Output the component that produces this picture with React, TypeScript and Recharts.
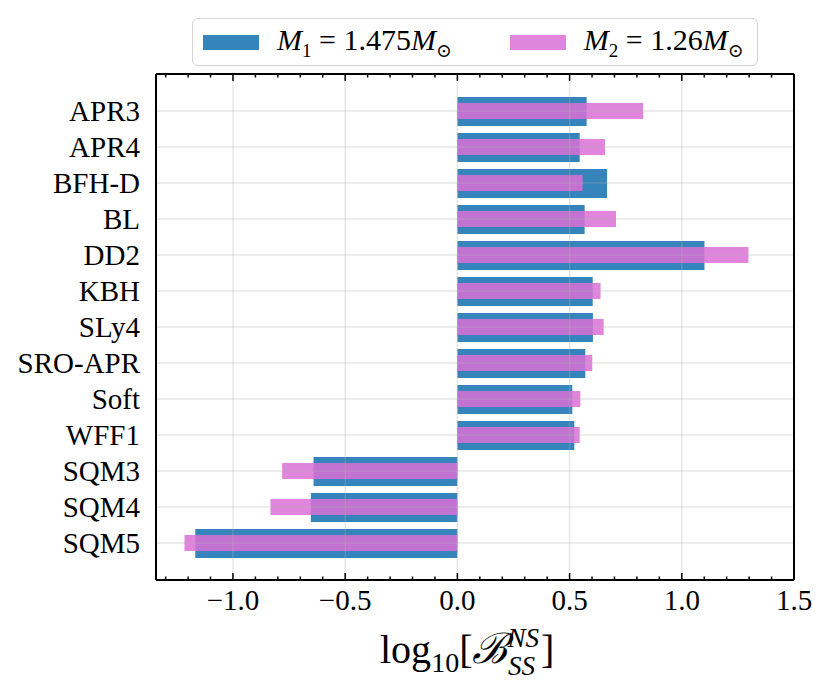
import React from "react";
import { ComposedChart, Bar, XAxis, YAxis, ReferenceLine } from "recharts";

// EOS models, top to bottom
const MODELS = ["APR3", "APR4", "BFH-D", "BL", "DD2", "KBH", "SLy4", "SRO-APR", "Soft", "WFF1", "SQM3", "SQM4", "SQM5"];
// log10 Bayes factor NS vs SS
const M1_VALUES = [0.576, 0.545, 0.667, 0.567, 1.101, 0.603, 0.604, 0.570, 0.512, 0.521, -0.641, -0.653, -1.168];
const M2_VALUES = [0.828, 0.658, 0.558, 0.707, 1.297, 0.638, 0.652, 0.601, 0.548, 0.545, -0.781, -0.833, -1.216];

const X_MAJOR_TICKS = [-1.0, -0.5, 0.0, 0.5, 1.0, 1.5];
const X_MINOR_TICKS = [-1.3, -1.2, -1.1, -0.9, -0.8, -0.7, -0.6, -0.4, -0.3, -0.2, -0.1,
  0.1, 0.2, 0.3, 0.4, 0.6, 0.7, 0.8, 0.9, 1.1, 1.2, 1.3, 1.4];
const X_DOMAIN: [number, number] = [-1.343, 1.5];

const FONT = "Liberation Serif, DejaVu Serif, serif";
const BLUE = "#1f77b4";
const PINK = "#da70d6";
const GRID = "#b0b0b0";
const PLOT_TOP = 74;

const data = MODELS.map((name, i) => ({ name, m1: M1_VALUES[i], m2: M2_VALUES[i] }));
const allTicks = [...X_MAJOR_TICKS, ...X_MINOR_TICKS].sort((a, b) => a - b);

const isMajor = (v: number) => X_MAJOR_TICKS.some((m) => Math.abs(m - v) < 1e-6);
const fmt = (v: number) => (v < 0 ? "\u2212" : "") + Math.abs(v).toFixed(1);

// inward ticks on bottom and mirrored on top spine
function BottomTick(props: any) {
  const { x, y, payload } = props;
  const len = isMajor(payload.value) ? 7 : 3.5;
  return (
    <g>
      <line x1={x} x2={x} y1={y} y2={y - len} stroke="#000" strokeWidth={1.5} />
      <line x1={x} x2={x} y1={PLOT_TOP} y2={PLOT_TOP + len} stroke="#000" strokeWidth={1.5} />
      {isMajor(payload.value) && (
        <text x={x} y={y + 30} textAnchor="middle" fontFamily={FONT} fontSize={29} fill="#000">
          {fmt(payload.value)}
        </text>
      )}
    </g>
  );
}

function YTick(props: any) {
  const { x, y, payload } = props;
  return (
    <text x={x - 8} y={y} dy={10} textAnchor="end" fontFamily={FONT} fontSize={29} fill="#000">
      {payload.value}
    </text>
  );
}

function XLabel(props: any) {
  const { viewBox } = props;
  const cx = viewBox.x + viewBox.width / 2;
  return (
    <text x={cx - 95} y={663} fontFamily={FONT} fontSize={40} fill="#000">
      log
      <tspan fontSize={28} dy={9}>10</tspan>
      <tspan dy={-9}>[</tspan>
      <tspan fontStyle="italic" fontSize={42}>ℬ</tspan>
      <tspan fontSize={27} fontStyle="italic" dy={-16}>NS</tspan>
      <tspan fontSize={27} fontStyle="italic" dx={-31} dy={28}>SS</tspan>
      <tspan dx={6} dy={-12}>]</tspan>
    </text>
  );
}

function LegendBox() {
  const item = { display: "flex", alignItems: "center" } as const;
  const sub = { fontSize: 19 };
  const patch = (c: string, o: number) => (
    <span style={{ display: "inline-block", width: 56, height: 15, background: c, opacity: o, marginRight: 18 }} />
  );
  return (
    <div
      style={{
        position: "absolute", left: 192, top: 18, width: 566, height: 48,
        border: "1.5px solid #d4d4d4", borderRadius: 6, background: "#fff",
        display: "flex", alignItems: "center", fontFamily: FONT, fontSize: 30,
        boxSizing: "border-box", paddingLeft: 10,
      }}
    >
      <div style={item}>
        {patch(BLUE, 0.9)}
        <span><i>M</i><sub style={sub}>1</sub> = 1.475<i>M</i><sub style={sub}>⊙</sub></span>
      </div>
      <div style={{ ...item, marginLeft: 58 }}>
        {patch(PINK, 0.85)}
        <span><i>M</i><sub style={sub}>2</sub> = 1.26<i>M</i><sub style={sub}>⊙</sub></span>
      </div>
    </div>
  );
}

export default function App() {
  const spine = { stroke: "#000", strokeWidth: 2 };
  return (
    <div style={{ position: "absolute", left: 0, top: 0, width: 830, height: 692, background: "#fff" }}>
      <ComposedChart
        width={830}
        height={692}
        data={data}
        layout="vertical"
        margin={{ top: 73, right: 35, bottom: 0, left: 0 }}
      >
        <XAxis
          xAxisId="top" orientation="top" type="number" domain={X_DOMAIN} allowDataOverflow
          height={1} tick={false} tickLine={false} axisLine={spine}
        />
        <XAxis
          xAxisId="main" type="number" domain={X_DOMAIN} allowDataOverflow
          ticks={allTicks} interval={0} height={112} tickSize={0} tickMargin={0} tickLine={false}
          axisLine={spine} tick={<BottomTick />} label={<XLabel />}
        />
        <YAxis
          yAxisId="a" type="category" dataKey="name" width={156} interval={0}
          padding={{ top: 19, bottom: 19 }} tickLine={false} axisLine={spine} tick={<YTick />}
        />
        <YAxis yAxisId="b" type="category" dataKey="name" hide padding={{ top: 19, bottom: 19 }} />
        <YAxis
          yAxisId="r" orientation="right" type="category" dataKey="name" width={1}
          tick={false} tickLine={false} axisLine={spine} padding={{ top: 19, bottom: 19 }}
        />
        <Bar dataKey="m1" xAxisId="main" yAxisId="a" barSize={29} fill={BLUE} fillOpacity={0.9} isAnimationActive={false} />
        <Bar dataKey="m2" xAxisId="main" yAxisId="b" barSize={16} fill={PINK} fillOpacity={0.85} isAnimationActive={false} />
        {X_MAJOR_TICKS.slice(0, -1).map((v) => (
          <ReferenceLine key={v} x={v} xAxisId="main" yAxisId="a" stroke={GRID} strokeOpacity={0.3} strokeWidth={1.5} />
        ))}
        {MODELS.map((m) => (
          <ReferenceLine key={m} y={m} xAxisId="main" yAxisId="a" stroke={GRID} strokeOpacity={0.3} strokeWidth={1.5} />
        ))}
      </ComposedChart>
      <LegendBox />
    </div>
  );
}
